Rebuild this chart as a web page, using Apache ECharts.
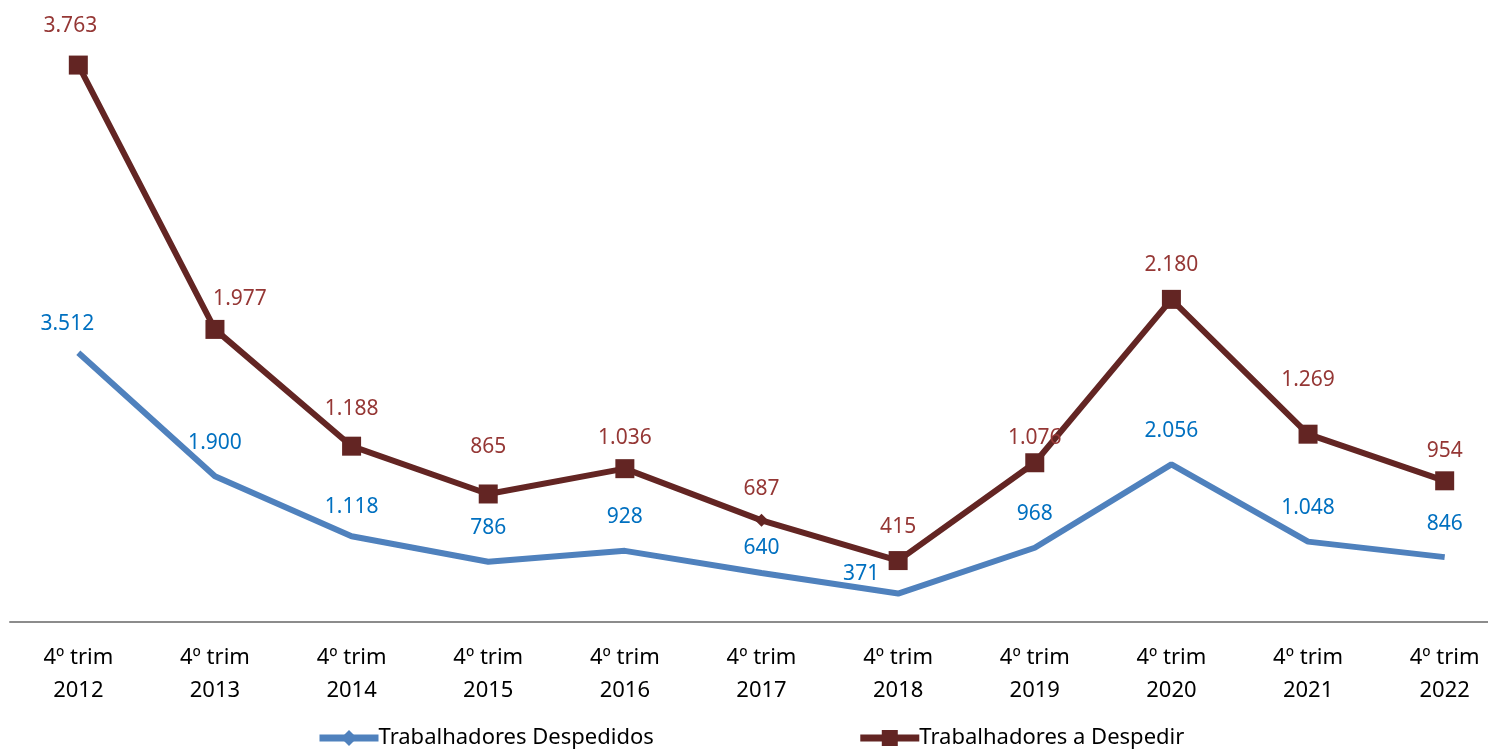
<!DOCTYPE html>
<html>
<head>
<meta charset="utf-8">
<style>
  html, body { margin: 0; padding: 0; background: #fff; }
  #chart { width: 1488px; height: 749px; }
</style>
<script src="https://cdn.jsdelivr.net/npm/echarts@6/dist/echarts.min.js"></script>
</head>
<body>
<div id="chart"></div>
<script>
// dados
const categories = ['4º trim\n2012', '4º trim\n2013', '4º trim\n2014', '4º trim\n2015', '4º trim\n2016',
  '4º trim\n2017', '4º trim\n2018', '4º trim\n2019', '4º trim\n2020', '4º trim\n2021', '4º trim\n2022'];
const despedidos = [3512, 1900, 1118, 786, 928, 640, 371, 968, 2056, 1048, 846];
const aDespedir = [3763, 1977, 1188, 865, 1036, 687, 415, 1076, 2180, 1269, 954];

// deslocamentos manuais dos rótulos (como no gráfico original)
const blueShift = { 0: [-11, 5], 2: [0, 4], 5: [0, 9], 6: [-37, 14] };
const redShift = { 0: [-8, -5], 1: [25, 4], 2: [0, -3], 3: [0, -13], 4: [0, 3], 7: [0, 9], 9: [0, -20], 10: [0, 4] };

const fmt = v => v.toLocaleString('de-DE');
const FONT = 'Noto Sans';

var myChart = echarts.init(document.getElementById('chart'));

var option = {
  backgroundColor: '#fff',
  textStyle: { fontFamily: FONT },
  animation: false,
  grid: { left: 10, right: -25, top: 30, bottom: 127, outerBoundsMode: 'none', containLabel: false },
  legend: {
    left: 311,
    top: 722,
    itemWidth: 59,
    itemHeight: 20,
    itemGap: 203,
    lineStyle: { width: 7 },
    textStyle: { fontSize: 22, color: '#000', fontFamily: FONT, padding: [0, 0, 0, -5] },
    data: ['Trabalhadores Despedidos', 'Trabalhadores a Despedir']
  },
  xAxis: {
    type: 'category',
    data: categories,
    boundaryGap: true,
    axisLine: { lineStyle: { color: '#8c8c8c', width: 2 } },
    axisTick: { show: false },
    axisLabel: { color: '#000', fontSize: 22, lineHeight: 33, margin: 19, interval: 0 }
  },
  yAxis: [
    { type: 'value', min: 0, max: 7720, show: false, splitLine: { show: false } },
    { type: 'value', min: 0, max: 4000, show: false, splitLine: { show: false } }
  ],
  series: [
    {
      name: 'Trabalhadores Despedidos',
      type: 'line',
      yAxisIndex: 0,
      symbol: 'diamond',
      symbolSize: 14,
      itemStyle: { color: '#4f81bd' },
      lineStyle: { color: '#4f81bd', width: 6 },
      label: {
        show: true, position: 'top', distance: 23,
        color: '#0070c0', fontSize: 21,
        formatter: p => fmt(p.value)
      },
      data: despedidos.map((v, i) => ({
        value: v,
        symbolSize: 0,
        label: blueShift[i] ? { offset: blueShift[i] } : undefined
      }))
    },
    {
      name: 'Trabalhadores a Despedir',
      type: 'line',
      yAxisIndex: 1,
      symbol: 'rect',
      symbolSize: 19,
      itemStyle: { color: '#632523' },
      lineStyle: { color: '#632523', width: 6 },
      label: {
        show: true, position: 'top', distance: 14,
        color: '#953735', fontSize: 21,
        formatter: p => fmt(p.value)
      },
      data: aDespedir.map((v, i) => ({
        value: v,
        symbol: i === 5 ? 'diamond' : 'rect',
        symbolSize: i === 5 ? 13 : 19,
        label: redShift[i] ? { offset: redShift[i] } : undefined
      }))
    }
  ]
};

myChart.setOption(option);
</script>
</body>
</html>
